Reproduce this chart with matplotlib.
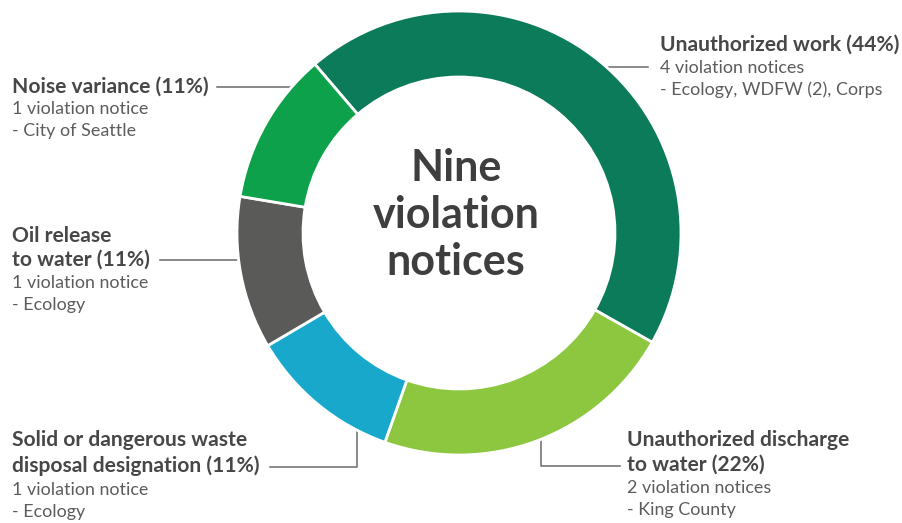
# Donut chart: violation notices by type
import numpy as np
import matplotlib
matplotlib.use('Agg')
import matplotlib.pyplot as plt

plt.rcParams['font.family'] = ['Lato', 'DejaVu Sans']

# Data
categories = ['Unauthorized work', 'Unauthorized discharge to water',
              'Solid or dangerous waste disposal designation',
              'Oil release to water', 'Noise variance']
notices = [4, 2, 1, 1, 1]
agencies = ['Ecology, WDFW (2), Corps', 'King County', 'Ecology',
            'Ecology', 'City of Seattle']
colors = ['#0b7b5a', '#8dc63f', '#17a8cc', '#5a5a58', '#0ca14a']

total = sum(notices)
pct = [round(100 * n / total) for n in notices]

W, H = 902, 523
fig = plt.figure(figsize=(W / 100, H / 100), dpi=100)
ax = fig.add_axes([0, 0, 1, 1])

def py(y):
    # pixel row -> data y
    return H - y

cx, cy, R, ring = 459, 233, 222, 66
ax.pie(notices, colors=colors, startangle=130.5, counterclock=False,
       radius=R, center=(cx, py(cy)), frame=True,
       wedgeprops=dict(width=ring, edgecolor='white', linewidth=2, zorder=2))
ax.set_xlim(0, W)
ax.set_ylim(0, H)
ax.set_aspect('equal')
ax.axis('off')

# centre text
ax.text(456, py(215), 'Nine\nviolation\nnotices', ha='center', va='center',
        fontsize=31, fontweight='bold', color='#3e3e3e', linespacing=1.2)

bold_c = '#474747'
reg_c = '#5c5c5c'
line_c = '#6a6a6a'

def label(x, ys_bold, bold_lines, ys_reg, reg_lines):
    for y, s in zip(ys_bold, bold_lines):
        ax.text(x, py(y), s, ha='left', va='center', fontsize=15.1,
                fontweight='bold', color=bold_c)
    for y, s in zip(ys_reg, reg_lines):
        ax.text(x, py(y), s, ha='left', va='center', fontsize=12.9,
                color=reg_c)

def nline(n):
    return f'{n} violation notice' + ('s' if n > 1 else '')

# labels
label(660, [45], [f'{categories[0]} ({pct[0]}%)'],
      [68, 90], [nline(notices[0]), '- ' + agencies[0]])
label(627, [440, 465], ['Unauthorized discharge', f'to water ({pct[1]}%)'],
      [488, 510], [nline(notices[1]), '- ' + agencies[1]])
label(12, [440, 466], ['Solid or dangerous waste',
                       f'disposal designation ({pct[2]}%)'],
      [490, 512], [nline(notices[2]), '- ' + agencies[2]])
label(12, [236, 260], ['Oil release', f'to water ({pct[3]}%)'],
      [283, 305], [nline(notices[3]), '- ' + agencies[3]])
label(12, [87], [f'{categories[4]} ({pct[4]}%)'],
      [109, 131], [nline(notices[4]), '- ' + agencies[4]])

# leader lines (drawn under the ring)
lw = 1.1
kw = dict(color=line_c, lw=lw, zorder=1)
ax.plot([600, 648], [py(67), py(67)], **kw)
ax.plot([541, 541, 620], [py(430), py(466), py(466)], **kw)
ax.plot([357, 357, 270], [py(420), py(467), py(467)], **kw)
ax.plot([160, 250], [py(260), py(260)], **kw)
ax.plot([217, 300], [py(87), py(87)], **kw)

fig.savefig('out.png', dpi=100, facecolor='white')
